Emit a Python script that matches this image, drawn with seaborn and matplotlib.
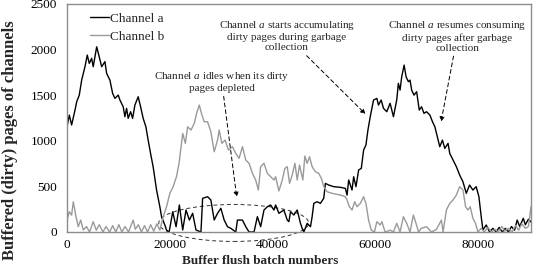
import matplotlib
matplotlib.use("Agg")
import matplotlib.pyplot as plt
from matplotlib.patches import Ellipse
import seaborn as sns
import pandas as pd

# ---- data ----
a_x = [0, 450, 900, 1560, 1890, 2390, 2860, 3500, 3950, 4340, 4800, 5110, 5780, 6280, 6750,
       7390, 7720, 8360, 8890, 9340, 9980, 10310, 10950, 11280, 11610, 11920, 12390, 12780,
       13230, 13870, 14340, 14840, 15370, 15810, 16280, 16780, 17450, 18090, 18420, 19060,
       19390, 19900, 20600, 21250, 21890, 22540, 23190, 23840, 24480, 25130, 26100, 26420,
       27390, 28030, 28680, 29330, 29980, 30620, 31270, 31920, 32880, 33210, 34180, 34830,
       35470, 36440, 37090, 37730, 38380, 39030, 39670, 40320, 40640, 41290, 42260, 42910,
       43230, 43550, 44200, 44850, 45490, 45820, 46140, 46790, 47440, 47760, 48080, 48730,
       49370, 50020, 50340, 50990, 51960, 53260, 54240, 54560, 54880, 55530, 55850, 56300,
       56820, 57340, 57790, 58240, 58630, 59080, 59720, 60370, 60690, 61210, 61660, 62300,
       62950, 63600, 64240, 64560, 64890, 65210, 65680, 66060, 66510, 66830, 67150, 67610,
       68120, 68630, 69080, 69550, 70050, 70700, 71210, 71670, 71990, 72630, 73140, 73600,
       74240, 74570, 75210, 75860, 76500, 77140, 77790, 78430, 79080, 79720, 80250, 80700,
       81030, 81680, 82330, 82970, 83600, 84200, 84800, 85400, 86000, 86600, 87200, 87700,
       88200, 88900, 89300, 89900, 90400]
a_y = [1154, 1282, 1173, 1337, 1428, 1501, 1666, 1812, 1940, 1849, 1904, 1812, 2031, 1921, 1812,
       1868, 1739, 1666, 1520, 1465, 1501, 1447, 1373, 1264, 1356, 1246, 1319, 1246,
       1392, 1483, 1373, 1246, 1154, 1008, 862, 716, 460, 277, 168, 77,
       22, 0, 222, 58, 296, 22, 241, 131, 205, 22, 0, 369,
       387, 351, 131, 205, 260, 131, 58, 40, 0, 131, 131, 58,
       0, 0, 168, 58, 241, 277, 296, 241, 296, 205, 241, 131,
       113, 222, 186, 241, 95, 40, 0, 95, 58, 168, 314, 332,
       314, 369, 533, 515, 497, 490, 478, 405, 570, 460, 606, 497,
       680, 698, 899, 954, 1118, 1264, 1447, 1465, 1392, 1447, 1356, 1319,
       1411, 1264, 1447, 1630, 1556, 1702, 1830, 1702, 1648, 1666, 1556, 1501,
       1538, 1337, 1373, 1301, 1319, 1282, 1209, 1154, 1081, 935, 1008, 917,
       972, 862, 789, 716, 625, 551, 424, 515, 460, 497, 387, 168,
       22, 77, 0, 40, 0, 50, 0, 40, 0, 60, 20, 131,
       60, 150, 80, 140, 110]

b_x = [0, 450, 900, 1230, 1750, 2200, 2660, 3180, 3800, 4400, 5110, 5700, 6300, 7000, 7600,
       8300, 8900, 9500, 10100, 10700, 11300, 12000, 12600, 12900, 13300, 13900, 14500,
       15100, 15700, 16300, 16900, 17500, 18090, 18740, 19390, 20040, 20680, 21330, 21830,
       22540, 23060, 23510, 24150, 24800, 25250, 25770, 26290, 26740, 27390, 28030, 28680,
       29330, 29650, 30170, 30810, 31460, 32230, 32880, 33530, 34180, 34830, 35470, 36120,
       36760, 37280, 37730, 38380, 39030, 39670, 40320, 40640, 41290, 41940, 42450, 42910,
       43360, 43880, 44400, 44850, 45300, 45950, 46340, 46790, 47250, 47760, 48400, 49050,
       49560, 50020, 50660, 51630, 53260, 54240, 54560, 55010, 55530, 56050, 56500, 57150,
       57790, 58240, 58760, 59270, 59900, 60370, 61010, 61340, 61980, 63000, 63600, 64240,
       64890, 65540, 66190, 66830, 67480, 68000, 68500, 69000, 70050, 71000, 72000, 72950,
       73270, 73920, 74570, 75210, 75860, 76500, 77140, 77660, 78110, 78560, 79080, 79590,
       80050, 80700, 81300, 82000, 82700, 83400, 84000, 84700, 85300, 86000, 86700, 87400,
       88000, 88600, 89300, 89900, 90400]
b_y = [131, 222, 186, 332, 168, 58, 131, 22, 60, 0, 113, 20, 80, 0, 60,
       0, 70, 0, 80, 0, 60, 0, 90, 131, 30, 80, 0,
       70, 0, 80, 10, 90, 20, 168, 277, 424, 497, 606, 753,
       1081, 972, 1154, 1118, 1191, 1301, 1392, 1282, 1209, 1209, 1099, 880,
       1008, 1118, 972, 1008, 899, 935, 862, 808, 935, 789, 753, 643,
       570, 460, 716, 753, 643, 606, 570, 606, 450, 570, 698, 716,
       533, 625, 753, 570, 734, 570, 833, 753, 825, 716, 661, 643,
       588, 497, 442, 424, 405, 387, 351, 277, 241, 332, 277, 314,
       387, 314, 131, 22, 0, 113, 77, 113, 0, 20, 0, 95,
       0, 168, 95, 0, 186, 95, 0, 40, 58, 0, 30, 131,
       0, 241, 314, 351, 405, 497, 460, 277, 241, 277, 150, 95,
       0, 40, 0, 50, 0, 30, 0, 60, 10, 40, 0, 70,
       20, 90, 40, 60, 277]

series_names = ["Channel a", "Channel b"]
x_ticks = [0, 20000, 40000, 60000, 80000]
y_ticks = [0, 500, 1000, 1500, 2000, 2500]

df_a = pd.DataFrame({"x": a_x, "y": a_y})
df_b = pd.DataFrame({"x": b_x, "y": b_y})

sns.set_style("white")
plt.rcParams["font.family"] = ["Liberation Serif", "DejaVu Serif"]
plt.rcParams["mathtext.fontset"] = "custom"
plt.rcParams["mathtext.it"] = "Liberation Serif:italic"
plt.rcParams["mathtext.rm"] = "Liberation Serif"

fig = plt.figure(figsize=(5.37, 2.70), dpi=100)
ax = fig.add_axes([67 / 537, 1 - 232 / 270, (531 - 67) / 537, (232 - 4) / 270])

sns.lineplot(data=df_a, x="x", y="y", ax=ax, color="black", linewidth=1.0,
             label=series_names[0], estimator=None, sort=False)
sns.lineplot(data=df_b, x="x", y="y", ax=ax, color="#9a9a9a", linewidth=1.0,
             label=series_names[1], estimator=None, sort=False)

ax.set_xlim(0, 90400)
ax.set_ylim(0, 2500)
ax.set_xticks(x_ticks)
ax.set_yticks(y_ticks)
ax.set_xticklabels([str(v) for v in x_ticks])
ax.set_yticklabels([str(v) for v in y_ticks])
ax.tick_params(axis="both", length=0, labelsize=9.5, colors="black")
ax.tick_params(axis="y", pad=7)
ax.tick_params(axis="x", pad=5)

for s in ax.spines.values():
    s.set_color("#8c8c8c")
    s.set_linewidth(1.0)

ax.set_xlabel("Buffer flush batch numbers", fontsize=9.5, fontweight="bold")
ax.set_ylabel("Buffered (dirty) pages of channels", fontsize=12, fontweight="bold")
ax.xaxis.set_label_coords((260 - 67) / 464, -(255 - 232) / 228)
ax.yaxis.set_label_coords(-(67 - 18) / 464, (232 - 140) / 228)

leg = ax.legend(loc="upper left", bbox_to_anchor=(0.025, 1.015), frameon=False,
                fontsize=9.5, handlelength=1.4, handletextpad=0.05, labelspacing=0.45)

arrowprops = dict(arrowstyle="-|>", linestyle=(0, (4, 3)), color="black", lw=0.7,
                  mutation_scale=7, shrinkA=0, shrinkB=0)

ax.annotate("Channel $a$ idles when its dirty\npages depleted",
            xy=(33065, 384), xytext=(30150, 1650), ha="center", va="center",
            fontsize=8, linespacing=1.15, arrowprops=arrowprops)
ax.annotate("Channel $a$ starts accumulating\ndirty pages during garbage\ncollection",
            xy=(58150, 1293), xytext=(42800, 2150), ha="center", va="center",
            fontsize=8, linespacing=1.15, arrowprops=arrowprops)
ax.annotate("Channel $a$ resumes consuming\ndirty pages after garbage\ncollection",
            xy=(72880, 1209), xytext=(76050, 2150), ha="center", va="center",
            fontsize=8, linespacing=1.15, arrowprops=arrowprops)

ell = Ellipse((32480, 99), width=29200, height=405, fill=False, edgecolor="#333333",
              linestyle=(0, (4, 3)), linewidth=0.7, clip_on=False)
ax.add_patch(ell)

fig.savefig("out.png", dpi=100)
